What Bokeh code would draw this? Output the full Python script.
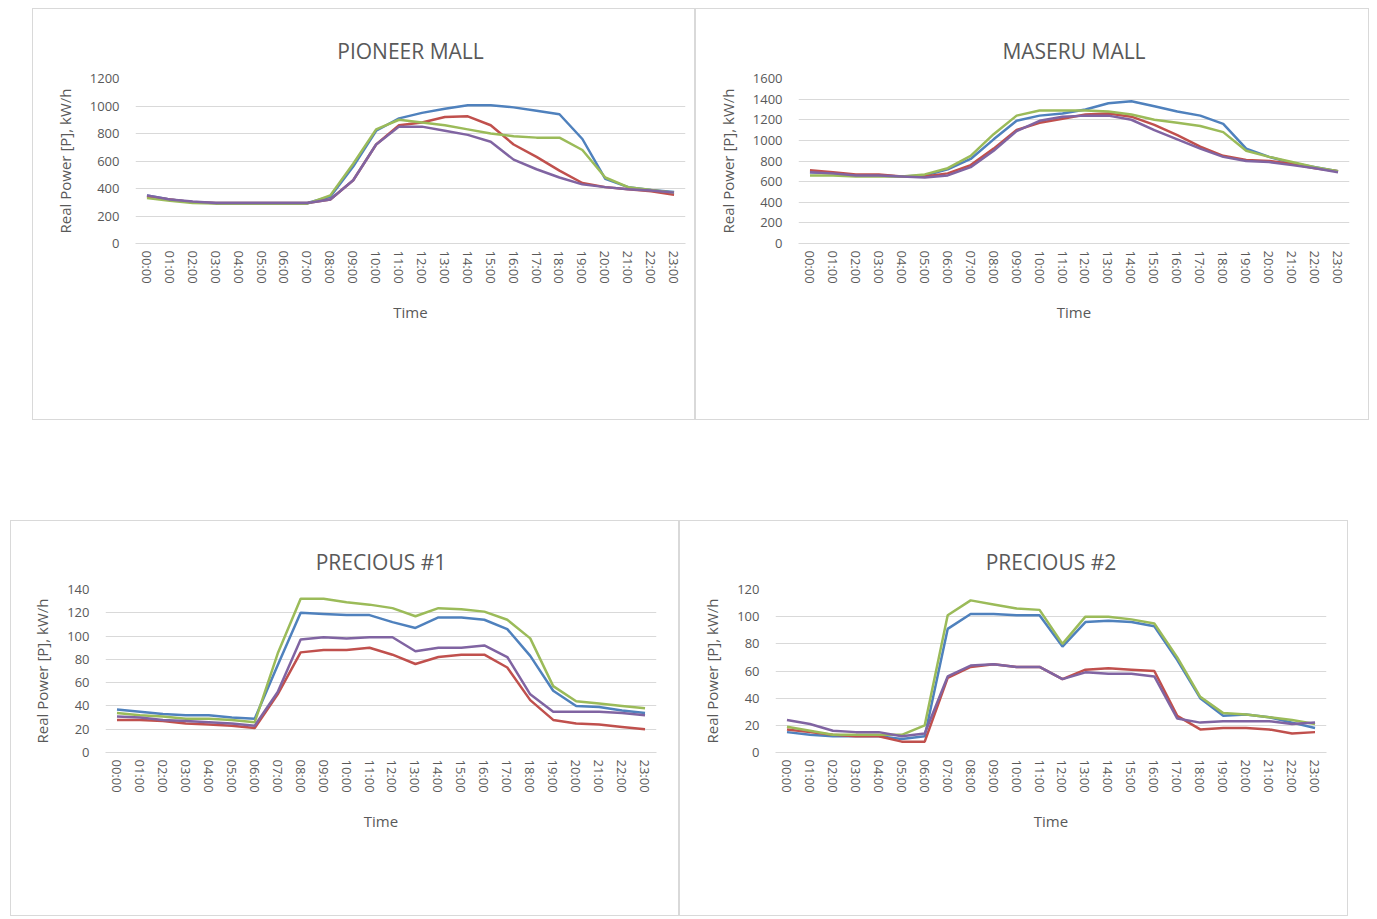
from bokeh.plotting import figure
from bokeh.layouts import column, row
from bokeh.models import Spacer, Legend, LegendItem, FactorRange, Range1d, FixedTicker
from bokeh.embed import file_html
from bokeh.resources import INLINE

hours = ["%02d:00" % h for h in range(24)]
series_names = ["Summer - weekday", "Summer - weekend", "Winter - weekday", "Winter - weekend"]
series_colors = ["#4F81BD", "#C0504D", "#9BBB59", "#8064A2"]

pioneer_summer_weekday = [350, 320, 300, 295, 295, 295, 295, 295, 340, 560, 820, 910, 950, 980, 1005, 1005, 990, 965, 940, 760, 470, 410, 390, 375]
pioneer_summer_weekend = [340, 320, 300, 295, 295, 295, 295, 295, 320, 460, 720, 860, 880, 920, 925, 860, 720, 630, 530, 440, 410, 395, 380, 355]
pioneer_winter_weekday = [330, 310, 295, 290, 290, 290, 290, 290, 350, 580, 830, 900, 880, 860, 830, 800, 780, 770, 770, 680, 480, 410, 390, 370]
pioneer_winter_weekend = [350, 320, 305, 295, 295, 295, 295, 295, 320, 460, 720, 850, 850, 820, 790, 740, 610, 540, 480, 430, 410, 395, 385, 370]

maseru_summer_weekday = [690, 680, 660, 660, 650, 660, 720, 820, 1010, 1190, 1240, 1260, 1300, 1360, 1380, 1330, 1280, 1240, 1160, 920, 840, 780, 740, 700]
maseru_summer_weekend = [710, 690, 670, 670, 650, 650, 680, 760, 920, 1100, 1170, 1210, 1250, 1260, 1230, 1150, 1050, 940, 850, 810, 800, 770, 730, 700]
maseru_winter_weekday = [660, 660, 650, 650, 650, 670, 730, 850, 1060, 1240, 1290, 1290, 1290, 1280, 1250, 1200, 1170, 1140, 1080, 900, 840, 790, 740, 700]
maseru_winter_weekend = [690, 680, 660, 660, 650, 640, 660, 740, 900, 1090, 1190, 1230, 1240, 1240, 1200, 1100, 1010, 920, 840, 800, 790, 760, 730, 690]

precious1_summer_weekday = [37, 35, 33, 32, 32, 30, 29, 75, 120, 119, 118, 118, 112, 107, 116, 116, 114, 106, 83, 53, 40, 39, 36, 34]
precious1_summer_weekend = [28, 28, 27, 25, 24, 23, 21, 50, 86, 88, 88, 90, 84, 76, 82, 84, 84, 73, 45, 28, 25, 24, 22, 20]
precious1_winter_weekday = [34, 32, 31, 29, 29, 28, 26, 85, 132, 132, 129, 127, 124, 117, 124, 123, 121, 114, 98, 57, 44, 42, 40, 38]
precious1_winter_weekend = [31, 30, 28, 27, 26, 25, 23, 52, 97, 99, 98, 99, 99, 87, 90, 90, 92, 82, 50, 35, 35, 35, 34, 32]

precious2_summer_weekday = [15, 13, 12, 12, 12, 10, 12, 91, 102, 102, 101, 101, 78, 96, 97, 96, 93, 68, 40, 27, 28, 26, 22, 18]
precious2_summer_weekend = [17, 15, 13, 12, 12, 8, 8, 55, 63, 65, 63, 63, 54, 61, 62, 61, 60, 27, 17, 18, 18, 17, 14, 15]
precious2_winter_weekday = [19, 16, 13, 13, 13, 13, 20, 101, 112, 109, 106, 105, 80, 100, 100, 98, 95, 70, 41, 29, 28, 26, 24, 21]
precious2_winter_weekend = [24, 21, 16, 15, 15, 12, 14, 56, 64, 65, 63, 63, 54, 59, 58, 58, 56, 25, 22, 23, 23, 23, 21, 22]

FONT = "Open Sans"
GREY = "#595959"
LIGHT = "#d9d9d9"


def make_legend(items, loc):
    return Legend(items=items, orientation="horizontal", location=loc,
                  margin=0, padding=0, spacing=6,
                  label_height=20, glyph_height=20, glyph_width=38, label_standoff=3,
                  label_text_font=FONT, label_text_font_size="15px",
                  label_text_color=GREY, border_line_color=None,
                  background_fill_alpha=0)


def make_chart(title, series, ymax, ystep, width, height, mbl, mbr, mbt, mbb,
               title_offset, legend_x, legend_y1, legend_y2):
    p = figure(width=width, height=height, x_range=FactorRange(factors=hours),
               y_range=Range1d(0, ymax), output_backend="svg", toolbar_location=None,
               min_border_left=mbl, min_border_right=mbr, min_border_top=mbt,
               min_border_bottom=mbb)
    p.styles = {"outline": "1px solid #d9d9d9", "outline-offset": "-1px"}
    p.title.text = title
    p.title.align = "center"
    p.title.offset = title_offset
    p.title.standoff = 27
    p.title.text_font = FONT
    p.title.text_font_size = "21px"
    p.title.text_font_style = "normal"
    p.title.text_color = GREY
    p.outline_line_color = None
    p.border_fill_alpha = 0
    p.xgrid.grid_line_color = None
    p.ygrid.grid_line_color = LIGHT

    p.yaxis.ticker = FixedTicker(ticks=list(range(0, ymax + 1, ystep)))
    p.yaxis.axis_line_color = None
    p.yaxis.major_tick_line_color = None
    p.yaxis.minor_tick_line_color = None
    p.yaxis.major_tick_out = 0
    p.yaxis.major_label_standoff = 16
    p.yaxis.major_label_text_font = FONT
    p.yaxis.major_label_text_font_size = "13px"
    p.yaxis.major_label_text_color = GREY
    p.yaxis.axis_label = "Real Power [P], kW/h"
    p.yaxis.axis_label_text_font = FONT
    p.yaxis.axis_label_text_font_size = "15px"
    p.yaxis.axis_label_text_font_style = "normal"
    p.yaxis.axis_label_text_color = GREY
    p.yaxis.axis_label_standoff = 12

    p.xaxis.axis_line_color = LIGHT
    p.xaxis.major_tick_line_color = None
    p.xaxis.minor_tick_line_color = None
    p.xaxis.major_tick_out = 0
    p.xaxis.major_label_orientation = "vertical"
    p.xaxis.major_label_standoff = 7
    p.xaxis.major_label_text_font = FONT
    p.xaxis.major_label_text_font_size = "13px"
    p.xaxis.major_label_text_color = GREY
    p.xaxis.axis_label = "Time"
    p.xaxis.axis_label_text_font = FONT
    p.xaxis.axis_label_text_font_size = "15px"
    p.xaxis.axis_label_text_font_style = "normal"
    p.xaxis.axis_label_text_color = GREY
    p.xaxis.axis_label_standoff = 15

    items = []
    for name, color, vals in zip(series_names, series_colors, series):
        r = p.line(x=hours, y=vals, line_color=color, line_width=2.5)
        items.append(LegendItem(label=name, renderers=[r]))

    p.add_layout(make_legend(items[:2], (legend_x, legend_y1)))
    p.add_layout(make_legend(items[2:], (legend_x, legend_y2)))
    return p


p1 = make_chart("PIONEER MALL",
                [pioneer_summer_weekday, pioneer_summer_weekend, pioneer_winter_weekday, pioneer_winter_weekend],
                1200, 200, 663, 412, 103, 10, 70, 177, -42, 61, -129, -161)
p2 = make_chart("MASERU MALL",
                [maseru_summer_weekday, maseru_summer_weekend, maseru_winter_weekday, maseru_winter_weekend],
                1600, 200, 674, 412, 103, 20, 70, 177, -40, 60, -129, -161)
p3 = make_chart("PRECIOUS #1",
                [precious1_summer_weekday, precious1_summer_weekend, precious1_winter_weekday, precious1_winter_weekend],
                140, 20, 669, 396, 95, 23, 69, 164, -38, 65, -126, -158)
p4 = make_chart("PRECIOUS #2",
                [precious2_summer_weekday, precious2_summer_weekend, precious2_winter_weekday, precious2_winter_weekend],
                120, 20, 669, 396, 96, 22, 69, 164, -39, 63, -126, -158)

layout = column(
    row(Spacer(width=32, height=412), p1, p2),
    row(Spacer(width=10, height=396), p3, p4),
    spacing=100, margin=(8, 0, 0, 0),
)

open("out.html", "w").write(file_html(layout, INLINE))
